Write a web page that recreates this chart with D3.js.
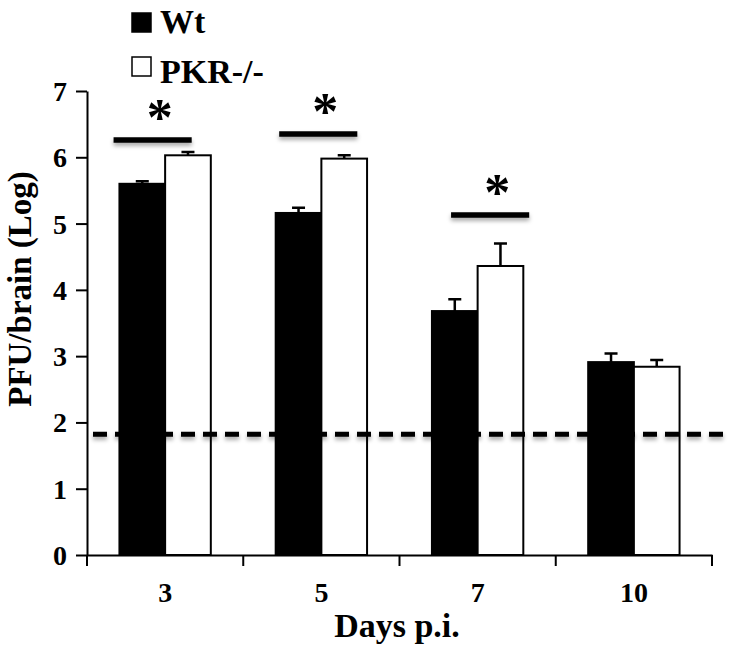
<!DOCTYPE html>
<meta charset="utf-8">
<script src="https://d3js.org/d3.v7.min.js"></script>
<style>
  body { margin: 0; background: #fff; }
  svg text { font-family: "Liberation Serif", Tinos, "Times New Roman", Times, "DejaVu Serif", serif; font-weight: bold; fill: #000; }
</style>
<div id="my_dataviz"></div>
<script>

// data
var days = ["3", "5", "7", "10"];
var groups = ["Wt", "PKR-/-"];
var wtMean = [5.60, 5.16, 3.68, 2.91];
var wtErr  = [0.04, 0.08, 0.18, 0.13];
var pkrMean = [6.03, 5.98, 4.36, 2.84];
var pkrErr  = [0.05, 0.05, 0.34, 0.10];
var yTicks = [0, 1, 2, 3, 4, 5, 6, 7];
var detectionLimit = 1.82;

// significance marks: day, height, span inside the day band (fraction)
var sigDays = ["3", "5", "7"];
var sigLevel = [6.26, 6.35, 5.13];
var sigFrom = [0.17, 0.23, 0.33];
var sigTo = [0.67, 0.73, 0.83];

var width = 741, height = 655;
var margin = {top: 91, right: 29, bottom: 100, left: 87};

var svg = d3.select("#my_dataviz")
  .append("svg")
    .attr("width", width)
    .attr("height", height);

// soft shadow used by the dashed line and the significance bars
var defs = svg.append("defs");
var f = defs.append("filter").attr("id", "shadow")
  .attr("filterUnits", "userSpaceOnUse")
  .attr("x", 0).attr("y", 0).attr("width", width).attr("height", height);
f.append("feDropShadow")
  .attr("dx", 0).attr("dy", 3).attr("stdDeviation", 2)
  .attr("flood-color", "#000").attr("flood-opacity", 0.35);

var x0 = d3.scaleBand()
  .domain(days)
  .range([margin.left, 712])
  .paddingInner(0);

var x1 = d3.scaleBand()
  .domain(groups)
  .range([0, x0.bandwidth()])
  .paddingInner(0)
  .paddingOuter(0.71);

var y = d3.scaleLinear()
  .domain([0, 7])
  .range([555, margin.top]);

var data = days.map(function(d, i) {
  return [
    {day: d, group: "Wt", mean: wtMean[i], err: wtErr[i]},
    {day: d, group: "PKR-/-", mean: pkrMean[i], err: pkrErr[i]}
  ];
});

// bars
var g = svg.selectAll(".day")
  .data(data)
  .enter()
  .append("g")
    .attr("transform", function(d, i) { return "translate(" + x0(days[i]) + ",0)"; });

// error bars (upper only)
g.selectAll(".err")
  .data(function(d) { return d; })
  .enter()
  .append("path")
    .attr("d", function(d) {
      var cx = x1(d.group) + x1.bandwidth() / 2;
      var top = y(d.mean + d.err);
      return "M" + cx + "," + y(d.mean) + "V" + top + "M" + (cx - 6.5) + "," + top + "H" + (cx + 6.5);
    })
    .attr("stroke", "#000")
    .attr("stroke-width", 2.5)
    .attr("fill", "none");

g.selectAll("rect")
  .data(function(d) { return d; })
  .enter()
  .append("rect")
    .attr("x", function(d) { return x1(d.group); })
    .attr("y", function(d) { return y(d.mean); })
    .attr("width", x1.bandwidth())
    .attr("height", function(d) { return y(0) - y(d.mean); })
    .attr("fill", function(d) { return d.group == "Wt" ? "#000" : "#fff"; })
    .attr("stroke", "#000")
    .attr("stroke-width", 2);

// detection limit
svg.append("line")
  .attr("x1", margin.left + 6)
  .attr("x2", 731)
  .attr("y1", y(detectionLimit))
  .attr("y2", y(detectionLimit))
  .attr("stroke", "#000")
  .attr("stroke-width", 5)
  .attr("stroke-dasharray", "14,8")
  .attr("filter", "url(#shadow)");

// axes
var yAxis = svg.append("g")
  .attr("transform", "translate(" + margin.left + ",0)")
  .call(d3.axisLeft(y).tickValues(yTicks).tickFormat(d3.format("d")).tickSize(11).tickSizeOuter(0).tickPadding(9));
yAxis.attr("font-family", null);
yAxis.select(".domain").attr("stroke-width", 2);
yAxis.selectAll(".tick line").attr("stroke-width", 2);
yAxis.selectAll("text")
  .style("font-size", "28px")
  .attr("dy", "0.34em");

var xAxis = svg.append("g")
  .attr("transform", "translate(0," + y(0) + ")")
  .call(d3.axisBottom(x0).tickSize(0).tickSizeOuter(0));
xAxis.attr("font-family", null);
xAxis.select(".domain").attr("stroke-width", 2);
xAxis.selectAll("text")
  .style("font-size", "28px")
  .attr("dy", null)
  .attr("y", 47);

// ticks on the band edges
var edges = days.map(function(d) { return x0(d); }).concat([x0.range()[1]]);
xAxis.selectAll(".edge")
  .data(edges)
  .enter()
  .append("line")
    .attr("x1", function(d) { return d; })
    .attr("x2", function(d) { return d; })
    .attr("y1", 0)
    .attr("y2", 11)
    .attr("stroke", "#000")
    .attr("stroke-width", 2);

// significance bars + asterisks
sigDays.forEach(function(d, i) {
  var a = x0(d) + sigFrom[i] * x0.bandwidth();
  var b = x0(d) + sigTo[i] * x0.bandwidth();
  svg.append("line")
    .attr("x1", a).attr("x2", b)
    .attr("y1", y(sigLevel[i])).attr("y2", y(sigLevel[i]))
    .attr("stroke", "#000")
    .attr("stroke-width", 5.5)
    .attr("filter", "url(#shadow)");
  svg.append("text")
    .attr("x", (a + b) / 2 + 7)
    .attr("y", y(sigLevel[i]) - 5)
    .attr("text-anchor", "middle")
    .style("font-size", "52px")
    .text("*");
});

// axis titles
svg.append("text")
  .attr("x", 397)
  .attr("y", 637)
  .attr("text-anchor", "middle")
  .style("font-size", "34px")
  .text("Days p.i.");

svg.append("text")
  .attr("transform", "translate(31,289) rotate(-90)")
  .attr("text-anchor", "middle")
  .style("font-size", "33px")
  .text("PFU/brain (Log)");

// legend
var legend = svg.selectAll(".legend")
  .data(groups)
  .enter()
  .append("g")
    .attr("transform", function(d, i) { return "translate(132," + (13 + i * 44) + ")"; });
legend.append("rect")
  .attr("width", 19)
  .attr("height", 19)
  .attr("fill", function(d) { return d == "Wt" ? "#000" : "#fff"; })
  .attr("stroke", "#000")
  .attr("stroke-width", 1.5);
legend.append("text")
  .attr("x", 28)
  .attr("y", function(d, i) { return i == 0 ? 20 : 26; })
  .style("font-size", "34px")
  .text(function(d) { return d; });

</script>
